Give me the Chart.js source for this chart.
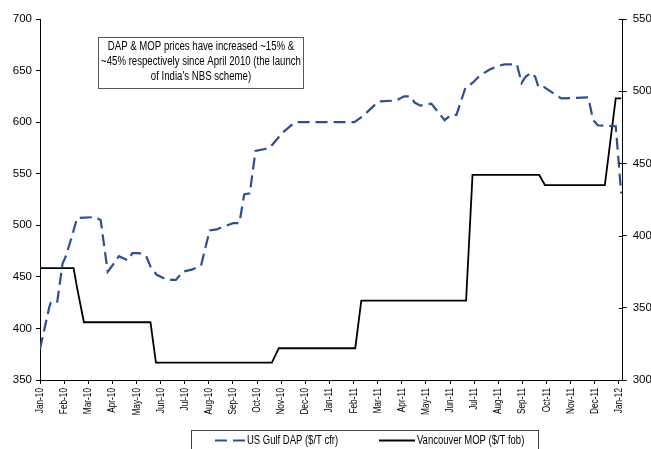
<!DOCTYPE html>
<html>
<head>
<meta charset="utf-8">
<script src="https://cdn.jsdelivr.net/npm/chart.js@4/dist/chart.umd.min.js"></script>
<style>
  html, body { margin: 0; padding: 0; background: #fff; }
  #wrap { width: 651px; height: 449px; position: relative; }
</style>
</head>
<body>
<div id="wrap"><canvas id="c" width="651" height="449"></canvas></div>
<script>
// Weekly price observations (only the weeks where the trend changes)
const dapLabel = 'US Gulf DAP ($/T cfr)';
const dapDates = [
  '2010-01-01','2010-01-13','2010-01-15','2010-01-23','2010-01-30','2010-02-03','2010-02-11','2010-02-16',
  '2010-03-10','2010-03-17','2010-03-26','2010-04-01','2010-04-09','2010-04-20','2010-04-26','2010-05-04',
  '2010-05-13','2010-05-19','2010-05-27','2010-06-09','2010-06-20','2010-06-29','2010-07-10','2010-07-22',
  '2010-08-02','2010-08-11','2010-08-21','2010-09-01','2010-09-09','2010-09-15','2010-09-22','2010-09-29',
  '2010-10-11','2010-10-17','2010-11-03','2010-11-18','2011-02-02','2011-02-12','2011-03-02','2011-03-25',
  '2011-04-04','2011-04-12','2011-04-17','2011-04-24','2011-05-08','2011-05-25','2011-06-02','2011-06-09',
  '2011-06-20','2011-06-29','2011-07-08','2011-07-21','2011-07-30','2011-08-09','2011-08-25','2011-08-31',
  '2011-09-05','2011-09-12','2011-09-17','2011-09-21','2011-09-28','2011-10-20','2011-11-23','2011-11-29',
  '2011-12-05','2011-12-28','2012-01-04'
];
const dapValues = [
  380, 421, 425, 425, 463, 470, 492, 507,
  508, 505, 455, 461, 470, 466, 473, 473,
  471, 460, 452, 447, 447, 455, 457, 461,
  495, 496, 499, 502, 502, 530, 531, 572,
  574, 575, 590, 600, 600, 606, 620, 621,
  625, 625, 619, 616, 618, 602, 607, 607,
  633, 638, 645, 651, 654, 656, 656, 638,
  644, 648, 644, 634, 634, 623, 624, 602,
  597, 596, 531
];

const mopLabel = 'Vancouver MOP ($/T fob)';
const mopDates = [
  '2010-01-01','2010-02-12','2010-02-16','2010-02-24','2010-05-19','2010-05-26','2010-10-20','2010-10-29',
  '2011-02-03','2011-02-10','2011-06-21','2011-06-29','2011-09-22','2011-09-29','2011-12-14','2011-12-28',
  '2012-01-04'
];
const mopValues = [
  377.5, 377.5, 364, 340, 340, 312, 312, 322,
  322, 355, 355, 442, 442, 435, 435, 495,
  495
];

const monthNames = ['Jan','Feb','Mar','Apr','May','Jun','Jul','Aug','Sep','Oct','Nov','Dec'];
const monthCount = 24; // Jan-10 .. Jan-12
const noteLines = [
  'DAP & MOP prices have increased ~15% &',
  '~45% respectively since April 2010 (the launch',
  "of India's NBS scheme)"
];

const FONT = "'Liberation Sans', Arial, sans-serif";

// Position of a date on a month axis (0 = 1 Jan 2010)
function monthPos(s) {
  const [y, m, d] = s.split('-').map(Number);
  const dim = new Date(y, m, 0).getDate();
  return (y - 2010) * 12 + (m - 1) + (d - 1) / dim;
}
function monthLabel(v) {
  const y = 2010 + Math.floor(v / 12);
  return monthNames[v % 12] + '-' + String(y).slice(2);
}
const toPoints = (dates, vals) => dates.map((d, i) => ({ x: monthPos(d), y: vals[i] }));

const DAP_COLOR = '#2D4F8E';

// text squeezed horizontally to give a narrow face
function narrowText(ctx, text, x, y, align, squeeze) {
  ctx.save();
  ctx.translate(x, y);
  ctx.scale(squeeze, 1);
  ctx.textAlign = align;
  ctx.fillText(text, 0, 0);
  ctx.restore();
}

// Month labels, annotation box, legend box and inner tick marks of the right axis
const extras = {
  id: 'extras',
  afterDraw(chart) {
    const ctx = chart.ctx;
    ctx.save();

    // month labels, vertical
    const xs = chart.scales.x;
    ctx.fillStyle = '#000';
    ctx.font = '11px ' + FONT;
    ctx.textBaseline = 'middle';
    xs.ticks.forEach(t => {
      const px = xs.getPixelForValue(t.value);
      ctx.save();
      ctx.translate(px, xs.top + 8);
      ctx.rotate(-Math.PI / 2);
      narrowText(ctx, monthLabel(t.value), 0, 0, 'right', 0.75);
      ctx.restore();
    });

    // right axis ticks cross the axis line
    const yr = chart.scales.y2;
    ctx.strokeStyle = '#000';
    ctx.lineWidth = 1;
    yr.ticks.forEach(t => {
      const py = Math.round(yr.getPixelForValue(t.value)) + 0.5;
      ctx.beginPath();
      ctx.moveTo(yr.left - 4, py);
      ctx.lineTo(yr.left, py);
      ctx.stroke();
    });

    // note box
    ctx.strokeStyle = '#555';
    ctx.lineWidth = 1;
    ctx.strokeRect(98.5, 37.5, 205, 51);
    ctx.fillStyle = '#000';
    ctx.font = '12.5px ' + FONT;
    ctx.textBaseline = 'middle';
    noteLines.forEach((l, i) => narrowText(ctx, l, 201, 47 + i * 15, 'center', 0.77));

    // legend
    ctx.strokeStyle = '#444';
    ctx.strokeRect(191.5, 430.5, 347, 30);
    const ly = 440.5;
    ctx.lineWidth = 2;
    ctx.strokeStyle = DAP_COLOR;
    ctx.setLineDash([12, 6]);
    ctx.beginPath(); ctx.moveTo(215, ly); ctx.lineTo(245, ly); ctx.stroke();
    ctx.setLineDash([]);
    ctx.strokeStyle = '#000';
    ctx.beginPath(); ctx.moveTo(379, ly); ctx.lineTo(415, ly); ctx.stroke();
    ctx.fillStyle = '#000';
    ctx.font = '12px ' + FONT;
    narrowText(ctx, dapLabel, 247, ly, 'left', 0.79);
    narrowText(ctx, mopLabel, 417, ly, 'left', 0.79);
    ctx.restore();
  }
};

const tickFont = { family: FONT, size: 11.5 };

new Chart(document.getElementById('c'), {
  type: 'line',
  data: {
    datasets: [
      {
        label: dapLabel,
        data: toPoints(dapDates, dapValues),
        yAxisID: 'y',
        borderColor: DAP_COLOR,
        borderWidth: 2.2,
        borderDash: [12, 6],
        pointRadius: 0,
        tension: 0,
        fill: false
      },
      {
        label: mopLabel,
        data: toPoints(mopDates, mopValues),
        yAxisID: 'y2',
        borderColor: '#000',
        borderWidth: 1.8,
        pointRadius: 0,
        tension: 0,
        fill: false
      }
    ]
  },
  options: {
    responsive: false,
    animation: false,
    events: [],
    layout: { padding: { top: 19, left: 0, right: 0, bottom: 0 } },
    plugins: { legend: { display: false }, tooltip: { enabled: false } },
    scales: {
      x: {
        type: 'linear',
        min: 0,
        max: 24.16,
        afterBuildTicks: s => {
          s.ticks = Array.from({ length: monthCount + 1 }, (_, i) => ({ value: i }));
        },
        afterFit: s => { s.height = 69; },
        ticks: { display: false },
        grid: { display: true, drawOnChartArea: false, drawTicks: true, tickLength: 4, color: '#000' },
        border: { display: true, color: '#000', width: 1 }
      },
      y: {
        position: 'left',
        min: 350,
        max: 700,
        afterFit: s => { s.width = 40; },
        ticks: { stepSize: 50, padding: 4, color: '#000', font: tickFont },
        grid: { display: true, drawOnChartArea: false, drawTicks: true, tickLength: 4, color: '#000' },
        border: { display: true, color: '#000', width: 1 }
      },
      y2: {
        position: 'right',
        min: 300,
        max: 550,
        afterFit: s => { s.width = 28.3; },
        ticks: { stepSize: 50, padding: 6, color: '#000', font: tickFont },
        grid: { display: true, drawOnChartArea: false, drawTicks: true, tickLength: 4, color: '#000' },
        border: { display: true, color: '#000', width: 1 }
      }
    }
  },
  plugins: [extras]
});
</script>
</body>
</html>
